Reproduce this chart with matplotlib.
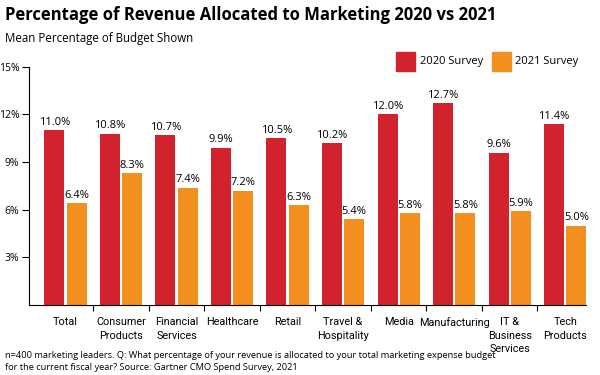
import numpy as np
import matplotlib
matplotlib.use("Agg")
from matplotlib import pyplot as plt
from matplotlib.patches import Rectangle

plt.rcParams['font.family'] = ['Open Sans', 'DejaVu Sans']

categories = ['Total', 'Consumer\nProducts', 'Financial\nServices', 'Healthcare', 'Retail',
              'Travel &\nHospitality', 'Media', 'Manufacturing', 'IT &\nBusiness\nServices',
              'Tech\nProducts']
s2020 = [11.0, 10.8, 10.7, 9.9, 10.5, 10.2, 12.0, 12.7, 9.6, 11.4]
s2021 = [6.4, 8.3, 7.4, 7.2, 6.3, 5.4, 5.8, 5.8, 5.9, 5.0]
yticks = [3, 6, 9, 12, 15]

red = '#D2222D'
orange = '#F38F1E'

fig = plt.figure(figsize=(6, 3.75), dpi=100)
ax = fig.add_axes([0.0483, 0.1867, 0.928, 0.635])

x = np.arange(len(categories))
w = 0.36
off = 0.2
ax.bar(x - off, s2020, width=w, color=red)
ax.bar(x + off, s2021, width=w, color=orange)

for i in range(len(x)):
    ax.text(x[i] - off, s2020[i] + 0.15, '%.1f%%' % s2020[i], ha='center', va='bottom', fontsize=8)
    ax.text(x[i] + off, s2021[i] + 0.15, '%.1f%%' % s2021[i], ha='center', va='bottom', fontsize=8)

ax.set_xlim(-0.657, 9.37)
ax.set_ylim(0, 15)
ax.set_yticks(yticks)
ax.set_yticklabels(['%d%%' % t for t in yticks], fontsize=7.5)
ax.set_xticks(x)
ax.set_xticklabels(categories, fontsize=7.8, linespacing=1.4,
                   family=['Roboto', 'DejaVu Sans'])
ax.tick_params(axis='x', length=0, pad=9)
ax.tick_params(axis='y', length=5, width=0.8, pad=2)
ax.set_xticks(x[:-1] + 0.5, minor=True)
ax.tick_params(axis='x', which='minor', length=4, width=0.8)

ax.spines['right'].set_color('none')
ax.spines['top'].set_color('none')

fig.text(0.008, 0.96, 'Percentage of Revenue Allocated to Marketing 2020 vs 2021',
         fontsize=12, fontweight='bold', va='center')
fig.text(0.008, 0.898, 'Mean Percentage of Budget Shown', fontsize=8.3, va='center')

fig.patches.append(Rectangle((0.66, 0.811), 0.0317, 0.0507, transform=fig.transFigure, color=red))
fig.text(0.7, 0.836, '2020 Survey', fontsize=8, va='center')
fig.patches.append(Rectangle((0.82, 0.811), 0.0317, 0.0507, transform=fig.transFigure, color=orange))
fig.text(0.858, 0.836, '2021 Survey', fontsize=8, va='center')

fig.text(0.008, 0.008,
         'n=400 marketing leaders. Q: What percentage of your revenue is allocated to your total marketing expense budget\n'
         'for the current fiscal year? Source: Gartner CMO Spend Survey, 2021',
         fontsize=6.65, va='bottom', linespacing=1.5)

fig.savefig('out.png', dpi=100)
